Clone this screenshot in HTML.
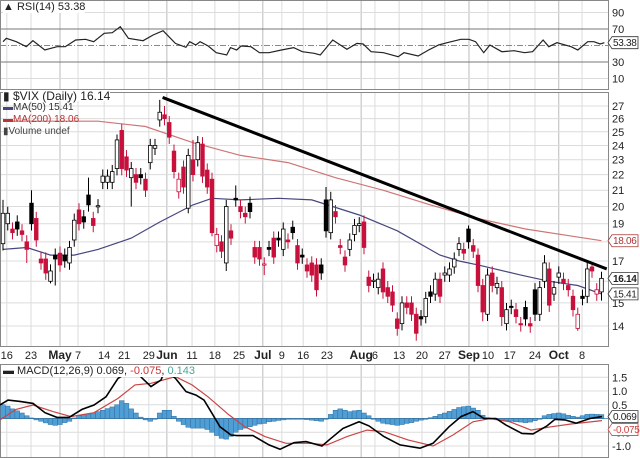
<!DOCTYPE html>
<html><head><meta charset="utf-8"><style>
html,body{margin:0;padding:0;background:#fff;}
svg{display:block;font-family:"Liberation Sans",sans-serif;}
</style></head><body>
<svg id="chart" width="640" height="458" viewBox="0 0 640 458" xmlns="http://www.w3.org/2000/svg">
<rect x="0" y="0" width="640" height="458" fill="#fff"/>
<g id="grid"></g>
<g id="marks"></g>
<g id="labels"></g>
</svg>
<script>
const opens=[17.9,19.0,18.7,19.1,18.6,18.0,20.2,19.3,17.1,17.1,16.0,17.3,17.4,17.3,16.9,18.1,19.8,19.4,20.7,19.3,20.0,21.5,21.5,21.5,22.4,25.1,23.2,21.8,22.0,22.0,21.7,22.8,23.8,25.9,26.3,25.7,23.6,20.9,22.5,19.9,23.0,23.0,24.1,22.3,21.7,17.8,18.0,16.9,18.6,20.5,20.0,19.6,20.2,17.7,17.7,16.8,17.7,18.2,18.2,17.6,18.1,18.8,17.8,17.3,16.8,16.9,16.8,16.8,20.4,18.5,19.7,17.8,17.2,17.6,18.4,18.9,19.1,16.2,16.0,15.7,16.6,15.7,15.5,14.3,14.1,15.0,15.0,14.5,14.4,14.4,15.5,15.4,16.1,16.3,16.3,16.7,17.6,17.6,18.7,17.8,17.3,15.8,14.5,16.4,15.7,15.7,14.1,14.85,14.7,14.1,14.8,14.1,15.6,14.5,16.0,16.6,15.4,16.2,16.1,15.8,15.3,13.9,15.3,15.3,16.7,15.4,15.5];
const closes=[19.6,19.6,18.5,18.7,18.4,17.6,19.0,18.1,16.9,16.4,16.5,17.1,16.8,17.0,17.7,19.2,19.0,19.1,20.1,18.9,20.05,21.9,21.9,22.2,24.4,22.4,22.3,22.4,21.5,21.8,21.0,24.0,24.0,26.5,26.0,24.6,22.2,21.7,21.2,23.3,22.0,24.2,21.9,21.2,18.5,18.4,17.5,20.0,18.2,20.4,19.7,19.4,19.7,17.2,17.1,16.85,17.6,17.2,18.1,18.7,18.0,18.5,16.9,17.2,16.5,16.3,15.6,16.4,18.6,20.4,19.4,17.7,16.8,18.1,18.9,19.0,17.7,15.8,16.05,16.1,15.5,15.3,14.9,13.9,15.0,14.8,14.5,13.7,14.3,15.2,15.3,16.1,15.3,16.4,16.6,17.1,17.9,17.4,18.0,17.5,15.8,14.6,16.3,15.8,15.9,14.4,14.7,14.8,14.4,14.05,14.3,14.0,14.5,15.7,16.9,14.9,15.7,16.4,15.9,15.6,14.7,14.5,15.2,16.6,16.5,15.6,16.14];
const highOverrides={0:20.4,6:21.0,18:21.8,24:24.8,33:27.5,34:27.0,40:24.4,42:24.6,49:21.3,68:21.2,69:20.9,98:18.9,114:17.3,124:16.9};
const lowOverrides={5:16.9,10:15.9,11:15.8,27:20.0,39:19.6,44:18.3,47:16.5,55:16.3,83:13.6,87:13.4,101:14.2,105:14.0,121:13.8,126:15.1};
const ma50Idx=[0,5,10,15,20,27,33,40,44,50,58,65,75,83,92,96,100,109,115,121,126];
const ma50Val=[17.6,17.7,17.3,17.3,17.6,18.2,19.1,20.1,20.5,20.4,20.5,20.4,19.5,18.6,17.3,17.0,16.8,16.3,16.0,15.8,15.41];
const ma200Idx=[0,10,20,30,40,50,60,70,80,90,100,110,120,126];
const ma200Val=[25.8,25.8,25.8,25.4,24.2,23.3,22.8,21.8,21.0,20.1,19.3,18.7,18.3,18.06];
const trendIdx=[33.6,127.1];
const trendVal=[27.7,16.6];
const priceTicks=[14,15,16,17,18,19,20,21,22,23,24,25,26,27];
const priceTickLabels=["14","15","","17","","19","20","21","22","23","24","25","26","27"];
const rsiIdx=[0,0.7,2.8,4.9,6.3,8.8,11.4,13.1,15.3,17.4,19.1,21.3,23,24.7,26.4,29.5,31.6,33.7,36.3,38.5,39.3,40.6,41.5,43.2,44.9,47.1,47.9,49.2,50.1,52.2,54,56,58.6,61.2,63,65.5,66.8,69.4,72.4,74.5,75.8,77.5,80.1,83.2,84.4,87.4,89.6,91.7,93.5,96.4,98.1,99.5,101.2,102.5,105,107.6,109.8,111.5,113.7,114.9,116.6,119.6,121,123.1,124.4,125.7,126.6];
const rsiVal=[54.6,58.7,54.6,48.6,55.8,44.5,48.6,48.6,56.7,57.5,54.6,64.8,65.5,72.8,58.7,55.8,62.7,67.9,52.6,47.8,54.6,50.6,54.6,49.4,41.3,38.5,47.4,44.5,49.4,48.6,41.3,41.3,44.5,47.4,42.5,40.5,38.5,56.7,45.4,52.6,51.8,42.5,41.3,36.4,41.3,37.3,44.5,50.6,53.4,57.5,57.5,54.6,41.3,50.6,42.5,43.7,41.3,42.5,56.7,48.6,53.4,48.6,44.5,54.6,54.6,51.8,53.38];
const rsiTicks=[10,30,50,70,90];
const macdX=[0,8,20,33,45,57,69,82,94,106,118,131,139,151,161,165,175.5,186,196,204,212,220,231,237,253,269,280,294,306,322,331,343,359,369,384,400,420,433,449,461,473,484,496,506,522,533,547,555,565,576,590,602];
const macdVal=[0.49,0.67,0.62,0.55,0.21,0.04,0.04,0.33,0.49,0.79,1.46,1.76,1.58,1.16,1.4,1.76,1.46,0.98,0.85,0.67,0.19,-0.3,-0.6,-0.62,-0.62,-0.96,-1.12,-0.88,-0.84,-1.0,-0.72,-0.36,-0.12,-0.27,-0.66,-0.96,-1.08,-0.9,-0.3,0.07,0.25,0.0,0.0,-0.24,-0.54,-0.56,-0.27,-0.03,-0.05,-0.17,0.0,0.069];
const signalX=[0,16,33,53,71,94,118,135,151,175.5,192,208,229,245,265,286,310,327,347,367,384,408,433,453,473,490,510,531,551,571,602];
const signalVal=[-0.05,0.33,0.49,0.25,0.07,0.21,0.73,1.22,1.28,1.52,1.22,0.79,0.13,-0.3,-0.66,-0.9,-0.9,-0.96,-0.66,-0.42,-0.48,-0.78,-1.0,-0.6,-0.12,0.0,-0.12,-0.42,-0.3,-0.2,-0.075];
const histVal=[0.5,0.45,0.35,0.28,0.2,0.1,0.02,-0.05,-0.1,-0.16,-0.22,-0.25,-0.22,-0.15,-0.1,0.02,0.1,0.14,0.16,0.2,0.25,0.3,0.36,0.42,0.5,0.65,0.55,0.35,0.2,0.05,-0.05,-0.1,0.0,0.2,0.3,0.3,0.08,-0.1,-0.22,-0.32,-0.35,-0.35,-0.35,-0.4,-0.5,-0.62,-0.72,-0.75,-0.65,-0.5,-0.4,-0.35,-0.3,-0.25,-0.2,-0.18,-0.12,-0.1,-0.07,-0.05,-0.03,0.0,0.0,-0.02,-0.04,-0.06,-0.08,-0.1,0.0,0.15,0.3,0.35,0.3,0.25,0.28,0.3,0.2,0.1,-0.03,-0.1,-0.17,-0.2,-0.22,-0.25,-0.22,-0.18,-0.15,-0.1,-0.06,-0.03,0.03,0.08,0.15,0.2,0.26,0.33,0.4,0.43,0.45,0.38,0.3,0.12,0.03,-0.03,-0.05,-0.07,-0.08,-0.1,-0.12,-0.13,-0.15,-0.13,-0.08,-0.03,0.1,0.15,0.18,0.2,0.17,0.12,0.08,0.05,0.1,0.15,0.16,0.15,0.143];
const macdTicks=[-1.0,-0.5,0.5,1.0,1.5];
const macdTickLabels=["-1.0","-0.5","0.5","1.0","1.5"];
const dateIdx=[0.8,5.9,12,15.8,21.3,25.5,30.7,34.5,39.8,44.6,49.7,54.7,58.7,63.2,68.2,75.4,78.3,83.4,88.2,93,98.1,102.1,106.7,112,117,121.9];
const dateText=["16","23","May","7","14","21","29","Jun","11","18","25","Jul","9","16","23","Aug","6","13","20","27","Sep","10","17","24","Oct","8"];

const NS="http://www.w3.org/2000/svg";
const PR=608;
const xi=i=>3+4.75*i;
const yP=v=>106+Math.log(27/v)*335;
const yR=v=>45.5-(v-50)*0.825;
const yM=v=>418.5-27.5*v;
function mk(tag,attrs,parent){const e=document.createElementNS(NS,tag);for(const k in attrs)e.setAttribute(k,attrs[k]);document.getElementById(parent).appendChild(e);return e;}
function txt(x,y,s,attrs,parent){const e=mk('text',Object.assign({x:x,y:y,'font-size':11,fill:'#222'},attrs),parent);e.textContent=s;return e;}

for(let k=0;k<dateIdx.length;k++){
  const x=xi(dateIdx[k]);const month=isNaN(+dateText[k]);
  for(const [a,b] of [[0,90],[92,347],[364,458]]){
    const l=mk('line',{x1:x,x2:x,y1:a,y2:b,stroke:month?'#bbb':'#dcdcdc','stroke-width':1},'grid');
    
    
  }
  const t=txt(x,359,dateText[k],{'text-anchor':'middle','font-size':month?12:11,'font-weight':month?'bold':'normal',fill:'#222'},'labels');
  
  
}
for(let k=0;k<priceTicks.length;k++){
  const y=yP(priceTicks[k]);
  const l=mk('line',{x1:0,x2:PR,y1:y,y2:y,stroke:'#dcdcdc'},'grid');
  
  
  if(priceTickLabels[k]){const t=txt(612,y+4,priceTickLabels[k],{},'labels');
  
  }
}
for(const v of rsiTicks){
  const y=yR(v);
  const l=mk('line',{x1:0,x2:PR,y1:y,y2:y,stroke:(v==30||v==70)?'#777':(v==50?'#888':'#dcdcdc'),'stroke-dasharray':v==50?'6,2,1,2':'none'},'grid');
  
  
  if(v!=50){const t=txt(612,y+4,String(v),{},'labels');
  
  }
}
for(let k=0;k<macdTicks.length;k++){
  const y=yM(macdTicks[k]);
  const l=mk('line',{x1:0,x2:PR,y1:y,y2:y,stroke:'#dcdcdc'},'grid');
  
  
  const t=txt(612,y+4,macdTickLabels[k],{},'labels');
  
  
}
for(const [a,b] of [[0,90],[92,347],[364,458]]){
  const r=mk('rect',{x:0.5,y:a+0.5,width:PR,height:b-a-1,fill:'none',stroke:'#888'},'grid');
  
  
}

let pts=rsiIdx.map((d,k)=>xi(d).toFixed(1)+','+yR(rsiVal[k]).toFixed(1)).join(' ');
let rl=mk('polyline',{points:pts,fill:'none',stroke:'#222','stroke-width':1.2},'marks');



pts=ma200Idx.map((d,k)=>xi(d).toFixed(1)+','+yP(ma200Val[k]).toFixed(1)).join(' ');
let m2=mk('polyline',{points:pts,fill:'none',stroke:'#d07474','stroke-width':1.2},'marks');


pts=ma50Idx.map((d,k)=>xi(d).toFixed(1)+','+yP(ma50Val[k]).toFixed(1)).join(' ');
let m5=mk('polyline',{points:pts,fill:'none',stroke:'#46467e','stroke-width':1.2},'marks');



for(let i=0;i<opens.length;i++){
  const o=opens[i],c=closes[i];
  const hi=highOverrides[i]!==undefined?highOverrides[i]:Math.max(o,c)*1.02;
  const lo=lowOverrides[i]!==undefined?lowOverrides[i]:Math.min(o,c)*0.98;
  const prev=i>0?closes[i-1]:o;
  const col=c<prev?'#c8103c':'#000';
  const x=xi(i);
  const w=mk('line',{x1:x,x2:x,y1:yP(hi),y2:yP(lo),stroke:col,'stroke-width':1},'marks');
  
  
  const top=yP(Math.max(o,c)),bot=yP(Math.min(o,c));
  const b=mk('rect',{x:x-1.8,y:top,width:3.6,height:Math.max(1.2,bot-top),fill:c>o?'#fff':col,stroke:col,'stroke-width':0.8},'marks');
  
  
}
let tl=mk('line',{x1:xi(trendIdx[0]),y1:yP(trendVal[0]),x2:xi(trendIdx[1]),y2:yP(trendVal[1]),stroke:'#000','stroke-width':3},'marks');



for(let i=0;i<histVal.length;i++){
  const x=xi(i),y0=yM(0),y1=yM(histVal[i]);
  const r=mk('rect',{x:x-2.4,y:Math.min(y0,y1),width:4.75,height:Math.max(0.8,Math.abs(y1-y0)),fill:'#4f9fd6',stroke:'#2f6f9f','stroke-width':0.5},'marks');
  
  
}
let zl=mk('line',{x1:0,x2:PR,y1:yM(0),y2:yM(0),stroke:'#2f6f9f','stroke-width':0.8},'marks');


pts=signalX.map((x,k)=>x+','+Math.max(364,yM(signalVal[k])).toFixed(1)).join(' ');
let sl=mk('polyline',{points:pts,fill:'none',stroke:'#cc4444','stroke-width':1.2},'marks');


pts=macdX.map((x,k)=>x+','+Math.max(364,yM(macdVal[k])).toFixed(1)).join(' ');
let ml=mk('polyline',{points:pts,fill:'none',stroke:'#000','stroke-width':1.6},'marks');



function tag(y,s,bold,name,col){
  const p=mk('path',{d:`M608 ${y} l4 -6 h26 v12 h-26 z`,fill:'#fff',stroke:col||'#333','stroke-width':0.8},'labels');
  
  
  const t=txt(613,y+3.5,s,{'font-size':10,'letter-spacing':'-0.3','font-weight':bold?'bold':'normal',fill:col||'#222'},'labels');
  
  
}
tag(yR(53.38),'53.38',false,'rsi-value-tag');
tag(yP(18.06),'18.06',false,'ma200-value-tag','#a33');
tag(yP(16.14),'16.14',true,'price-value-tag');
tag(yP(15.41),'15.41',false,'ma50-value-tag');
tag(yM(-0.075)+9,'-0.075',false,'signal-value-tag','#c44');
tag(yM(0.069),'0.069',false,'macd-value-tag');
</script>
<div style="position:absolute;left:0;top:0;width:640px;height:458px;pointer-events:none;font-family:'Liberation Sans',sans-serif;">
  <div style="position:absolute;left:3px;top:1px;font-size:11px;color:#222;background:#fff;">&#9650; RSI(14) 53.38</div>
  <div style="position:absolute;left:3px;top:91px;font-size:12px;line-height:10px;color:#222;">
    <div style="background:#fff;display:inline-block">&#9646; $VIX (Daily) 16.14</div><br>
    <div style="font-size:10px;color:#333;display:inline-block"><span style="color:#46467e">&#9644;</span>MA(50) 15.41</div><br>
    <div style="font-size:10px;color:#b33;display:inline-block">&#9644;MA(200) 18.06</div><br>
    <div style="font-size:10px;color:#444;display:inline-block">&#9646;Volume undef</div>
  </div>
  <div style="position:absolute;left:3px;top:365px;font-size:11px;color:#222;background:#fff;">&#9644; MACD(12,26,9) 0.069, <span style="color:#c33">-0.075</span>, <span style="color:#4a9">0.143</span></div>
</div>
</body></html>
